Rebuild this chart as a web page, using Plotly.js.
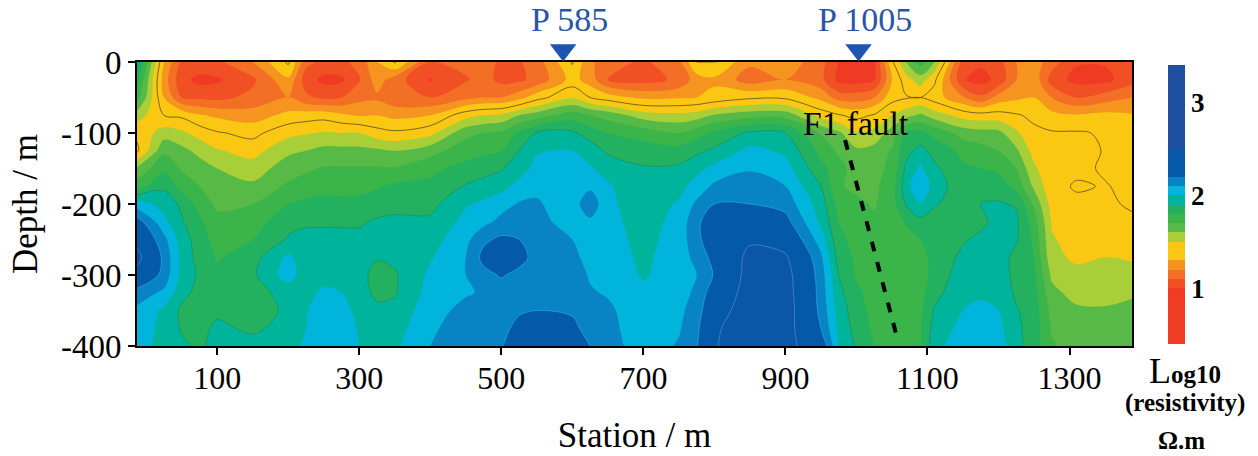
<!DOCTYPE html>
<html><head><meta charset="utf-8">
<script src="https://cdn.plot.ly/plotly-3.0.1.min.js"></script>
<style>html,body{margin:0;padding:0;background:#fff}</style></head>
<body><div id="chart" style="width:1258px;height:456px"></div>
<script>
const depths=[0,-25,-50,-75,-100,-125,-150,-175,-200,-225,-250,-275,-300,-325,-350,-375,-400];
const stations=[-13,25,50,75,100,150,200,225,250,275,300,325,350,400,450,475,500,525,550,600,625,650,700,750,775,800,850,900,950,975,1000,1025,1050,1070,1090,1110,1150,1175,1200,1225,1250,1275,1310,1350,1388];
const sM13=[1.95,1.85,1.75,1.55,1.42,1.38,1.62,1.75,2.05,2.25,2.35,2.45,2.35,2.15,2.08,2.06,2.05];
const s25=[1.3,1.25,1.3,1.4,1.55,1.68,1.78,1.88,1.96,2.03,2.13,2.17,2.16,2.08,1.98,1.97,1.96];
const s50=[1.08,1.03,1.1,1.38,1.52,1.63,1.69,1.76,1.88,1.91,1.95,1.97,1.97,1.93,1.88,1.89,1.92];
const s75=[1.07,.97,1.08,1.31,1.46,1.57,1.65,1.7,1.76,1.82,1.85,1.86,1.88,1.87,1.84,1.87,1.88];
const s100=[1.08,.985,1.07,1.28,1.41,1.51,1.6,1.64,1.68,1.73,1.76,1.79,1.82,1.85,1.88,1.92,1.94];
const s150=[1.2,1.08,1.13,1.25,1.37,1.46,1.55,1.62,1.7,1.75,1.8,1.86,1.88,1.87,1.85,1.88,1.94];
const s200=[1.42,1.28,1.2,1.33,1.47,1.58,1.65,1.72,1.8,1.87,1.91,2.02,2.05,1.93,1.92,1.94,1.96];
const s225=[1.13,1.05,1.12,1.35,1.49,1.6,1.68,1.75,1.82,1.89,1.92,1.94,1.94,1.97,1.99,2.0,2.02];
const s250=[1.08,.97,1.08,1.36,1.51,1.63,1.71,1.77,1.83,1.89,1.92,1.94,1.96,2.02,2.07,2.08,2.08];
const s275=[1.08,.98,1.1,1.32,1.5,1.63,1.71,1.76,1.83,1.89,1.92,1.93,1.96,2.0,2.04,2.05,2.05];
const s300=[1.13,1.09,1.17,1.29,1.5,1.63,1.71,1.76,1.84,1.89,1.92,1.93,1.94,1.96,1.97,1.99,2.0];
const s325=[1.3,1.25,1.18,1.3,1.44,1.62,1.71,1.79,1.86,1.91,1.93,1.91,1.86,1.87,1.93,1.98,2.0];
const s350=[1.41,1.15,1.13,1.27,1.42,1.6,1.71,1.82,1.87,1.92,1.93,1.92,1.89,1.89,1.93,1.96,1.98];
const s400=[1.1,.99,1.1,1.3,1.47,1.66,1.78,1.82,1.87,1.92,1.96,1.99,2.02,2.04,2.06,2.08,2.1];
const s450=[1.13,1.09,1.17,1.46,1.67,1.76,1.83,1.91,1.99,2.03,2.07,2.1,2.1,2.09,2.13,2.16,2.18];
const s475=[1.15,1.14,1.2,1.5,1.7,1.78,1.86,1.94,2.02,2.07,2.18,2.23,2.17,2.11,2.12,2.14,2.16];
const s500=[1.08,1.07,1.2,1.52,1.72,1.8,1.89,1.97,2.06,2.13,2.22,2.28,2.21,2.15,2.13,2.15,2.19];
const s525=[1.09,1.08,1.26,1.6,1.82,1.9,1.96,2.03,2.11,2.14,2.2,2.24,2.17,2.14,2.18,2.25,2.29];
const s550=[1.15,1.13,1.36,1.65,1.91,1.99,2.03,2.08,2.11,2.13,2.14,2.16,2.17,2.19,2.2,2.25,2.27];
const s600=[1.41,1.34,1.49,1.75,1.92,2.0,2.02,2.03,2.05,2.06,2.1,2.13,2.15,2.17,2.19,2.22,2.25];
const s625=[1.22,1.25,1.4,1.7,1.85,1.96,2.01,2.08,2.17,2.08,2.04,2.06,2.09,2.11,2.15,2.17,2.2];
const s650=[1.15,1.1,1.35,1.66,1.8,1.88,1.97,2.01,2.02,2.03,2.04,2.05,2.07,2.09,2.12,2.13,2.14];
const s700=[1.08,1.06,1.28,1.55,1.76,1.85,1.91,1.94,1.95,1.96,1.97,1.98,1.99,2.02,2.03,2.04,2.05];
const s750=[1.18,1.12,1.29,1.53,1.7,1.84,1.92,1.97,2.01,2.03,2.04,2.05,2.05,2.06,2.08,2.09,2.11];
const s775=[1.4,1.25,1.3,1.55,1.76,1.88,1.97,2.04,2.12,2.18,2.17,2.13,2.1,2.12,2.14,2.17,2.19];
const s800=[1.41,1.28,1.33,1.61,1.82,1.92,2.03,2.12,2.2,2.26,2.28,2.24,2.21,2.27,2.33,2.38,2.39];
const s850=[1.22,1.15,1.38,1.66,1.92,2.03,2.09,2.15,2.2,2.28,2.38,2.44,2.46,2.47,2.48,2.48,2.48];
const s900=[1.26,1.2,1.38,1.66,1.9,1.98,2.04,2.1,2.16,2.24,2.33,2.42,2.46,2.47,2.48,2.47,2.45];
const s950=[1.14,1.13,1.27,1.46,1.69,1.77,1.83,1.9,1.95,1.98,2.05,2.12,2.15,2.16,2.17,2.2,2.3];
const s975=[1.0,.97,1.16,1.41,1.62,1.68,1.75,1.71,1.76,1.8,1.83,1.86,1.9,1.93,1.96,1.98,2.0];
const s1000=[.98,.96,1.15,1.37,1.51,1.62,1.64,1.68,1.72,1.74,1.76,1.78,1.79,1.82,1.84,1.86,1.89];
const s1025=[.99,.99,1.2,1.41,1.53,1.64,1.66,1.68,1.69,1.72,1.74,1.74,1.75,1.76,1.77,1.78,1.8];
const s1050=[1.38,1.3,1.36,1.5,1.65,1.71,1.73,1.75,1.76,1.74,1.74,1.74,1.74,1.74,1.75,1.75,1.76];
const s1070=[1.6,1.46,1.39,1.56,1.82,1.87,1.92,1.96,1.91,1.81,1.77,1.74,1.72,1.72,1.72,1.73,1.74];
const s1090=[1.75,1.55,1.4,1.62,1.83,1.93,2.02,2.1,1.99,1.87,1.8,1.76,1.75,1.77,1.78,1.79,1.79];
const s1110=[1.6,1.42,1.35,1.55,1.77,1.87,1.92,1.95,1.91,1.86,1.84,1.84,1.84,1.87,1.91,1.94,1.97];
const s1150=[1.05,1.01,1.21,1.46,1.66,1.77,1.82,1.84,1.85,1.86,1.89,1.92,1.95,1.97,2.0,2.03,2.06];
const s1175=[1.02,.96,1.12,1.44,1.64,1.74,1.8,1.85,1.9,1.88,1.92,1.95,1.96,1.98,2.03,2.07,2.09];
const s1200=[1.06,1.03,1.24,1.44,1.63,1.7,1.78,1.85,1.91,1.93,1.94,1.95,1.97,1.98,2.0,2.03,2.05];
const s1225=[1.2,1.2,1.28,1.41,1.52,1.62,1.7,1.77,1.89,1.92,1.91,1.87,1.86,1.88,1.91,1.92,1.93];
const s1250=[1.25,1.27,1.3,1.38,1.42,1.46,1.52,1.58,1.68,1.75,1.78,1.8,1.82,1.84,1.85,1.86,1.85];
const s1275=[1.15,1.05,1.2,1.33,1.41,1.41,1.42,1.43,1.46,1.49,1.51,1.53,1.58,1.63,1.67,1.69,1.71];
const s1310=[1.01,.97,1.1,1.31,1.41,1.43,1.42,1.39,1.42,1.44,1.46,1.48,1.53,1.56,1.62,1.65,1.67];
const s1350=[1.01,.97,1.15,1.33,1.39,1.395,1.39,1.405,1.42,1.45,1.47,1.5,1.53,1.57,1.61,1.64,1.66];
const s1388=[1.07,1.06,1.2,1.31,1.35,1.36,1.37,1.38,1.385,1.42,1.45,1.49,1.53,1.59,1.62,1.65,1.67];
const columns=[sM13,s25,s50,s75,s100,s150,s200,s225,s250,s275,s300,s325,s350,s400,s450,s475,s500,s525,s550,s600,s625,s650,s700,s750,s775,s800,s850,s900,s950,s975,s1000,s1025,s1050,s1070,s1090,s1110,s1150,s1175,s1200,s1225,s1250,s1275,s1310,s1350,s1388];
const bandColors=['#ef3e24','#ef3e24','#ef3e24','#ef3e24','#ef3e24','#ef3b24','#f15025','#f36f25','#f5941f','#fac812','#fac812','#a8cf38','#57ba47','#3bb54a','#23b15f','#00b39b','#00b4dc','#0884c5','#0559a9','#0559a9','#0a57a8','#1f4fa1','#1f4fa1','#1f4fa1','#1f4fa1','#1f4fa1','#1f4fa1','#1f4fa1','#1f4fa1','#1f4fa1'];
const xTicks=[100,300,500,700,900,1100,1300];
const yTicks=[0,-100,-200,-300,-400];
const yLabels=['0','-100','-200','-300','-400'];
const profileStations=[587,1003];
const profileHeights=[12,12];
const profileLabels=['P 585','P 1005'];
const faultX=[984,1059];
const faultY=[-110,-395];

const serif='"Liberation Serif","Times New Roman",serif';
const H=346, plotH=284;
const nb=bandColors.length, N=nb+1;
const scale=[[0,bandColors[0]]];
bandColors.forEach((c,i)=>{const k=i+1;scale.push([(k-0.45)/N,c],[(k+0.45)/N,c]);});
scale.push([1,bandColors[nb-1]]);
const smooth=1;
function levelLine(v,color,w){return {type:'contour',x:stations,y:depths,z:columns,transpose:true,autocontour:false,showscale:false,hoverinfo:'skip',
 contours:{coloring:'none',start:v,end:v,size:1},line:{color:color,width:w,smoothing:smooth}};}
const traces=[
 {type:'contour',x:stations,y:depths,z:columns,transpose:true,autocontour:false,zmin:0.4,zmax:3.4,colorscale:scale,
  contours:{coloring:'fill',start:0.4,end:3.4,size:0.1,showlines:false},line:{width:0,smoothing:smooth},
  colorbar:{x:(1168-137)/995,xanchor:'left',xref:'paper',y:(H-344)/H,yanchor:'bottom',yref:'paper',lenmode:'pixels',len:279,thicknessmode:'pixels',thickness:17,
   outlinewidth:0,borderwidth:0,tickmode:'array',tickvals:[1,2,3],ticktext:['1','2','3'],ticks:'',ticklen:0,xpad:0,ypad:0,
   tickfont:{family:serif,size:27,color:'#000',weight:700}}},
 levelLine(1.4,'#5a4a20',0.8),
 levelLine(1.9,'#1d8a55',0.6),
 levelLine(2.2,'#2bb6e6',0.6),
 levelLine(2.4,'#6a93c9',0.6),
 {type:'scatter',mode:'lines',x:faultX,y:faultY,line:{color:'#000',width:4,dash:'10px,11px'},hoverinfo:'skip',showlegend:false},
 {type:'scatter',mode:'markers',xaxis:'x',yaxis:'y2',x:profileStations,y:profileHeights,
  marker:{symbol:'triangle-down',size:23,color:'#1e55ae'},cliponaxis:false,hoverinfo:'skip',showlegend:false}
];
const tickFontX={family:serif,size:32,color:'#000'};
const tickFontY={family:serif,size:33,color:'#000'};
function py(p){return (H-p)/H;}
const labelAnns=profileStations.map((s,i)=>({xref:'x',yref:'paper',x:s,xshift:6,y:py(20),xanchor:'center',yanchor:'middle',text:profileLabels[i],showarrow:false,font:{family:serif,size:34,color:'#2a55a5'}}));
const layout={width:1258,height:456,margin:{l:137,r:126,t:0,b:110},paper_bgcolor:'#fff',plot_bgcolor:'#fff',showlegend:false,font:{family:serif},
 xaxis:{range:[-13,1388],tickmode:'array',tickvals:xTicks,ticktext:xTicks.map(String),ticks:'outside',ticklen:7,tickwidth:2,tickcolor:'#000',ticklabelstandoff:-4,showline:true,linecolor:'#000',linewidth:2,mirror:true,showgrid:false,zeroline:false,tickfont:tickFontX,title:{text:'Station / m',font:{family:serif,size:35,color:'#000'},standoff:27}},
 yaxis:{domain:[0,plotH/H],range:[-400,0],tickmode:'array',tickvals:yTicks,ticktext:yLabels,ticks:'outside',ticklen:7,tickwidth:2,tickcolor:'#000',showline:true,linecolor:'#000',linewidth:2,mirror:true,showgrid:false,zeroline:false,tickfont:tickFontY,title:{text:'Depth / m',font:{family:serif,size:35,color:'#000'},standoff:13}},
 yaxis2:{domain:[plotH/H,1],range:[0,62],visible:false,anchor:'x',fixedrange:true},
 annotations:labelAnns.concat([
  {xref:'paper',yref:'paper',x:(856-137)/995,y:py(123),xanchor:'center',yanchor:'middle',text:'F1 fault',showarrow:false,font:{family:serif,size:33.5,color:'#000'}},
  {xref:'paper',yref:'paper',x:(1185-137)/995,y:py(371),xanchor:'center',yanchor:'middle',text:'<span style="font-size:36px">L</span><b>og10</b>',showarrow:false,font:{family:serif,size:25,color:'#000'}},
  {xref:'paper',yref:'paper',x:(1185-137)/995,y:py(403),xanchor:'center',yanchor:'middle',text:'<b>(resistivity)</b>',showarrow:false,font:{family:serif,size:25,color:'#000'}},
  {xref:'paper',yref:'paper',x:(1181-137)/995,y:py(440),xanchor:'center',yanchor:'middle',text:'<b>Ω.m</b>',showarrow:false,font:{family:serif,size:25,color:'#000'}}
 ])};
Plotly.newPlot('chart',traces,layout,{displayModeBar:false,staticPlot:true});
</script></body></html>
